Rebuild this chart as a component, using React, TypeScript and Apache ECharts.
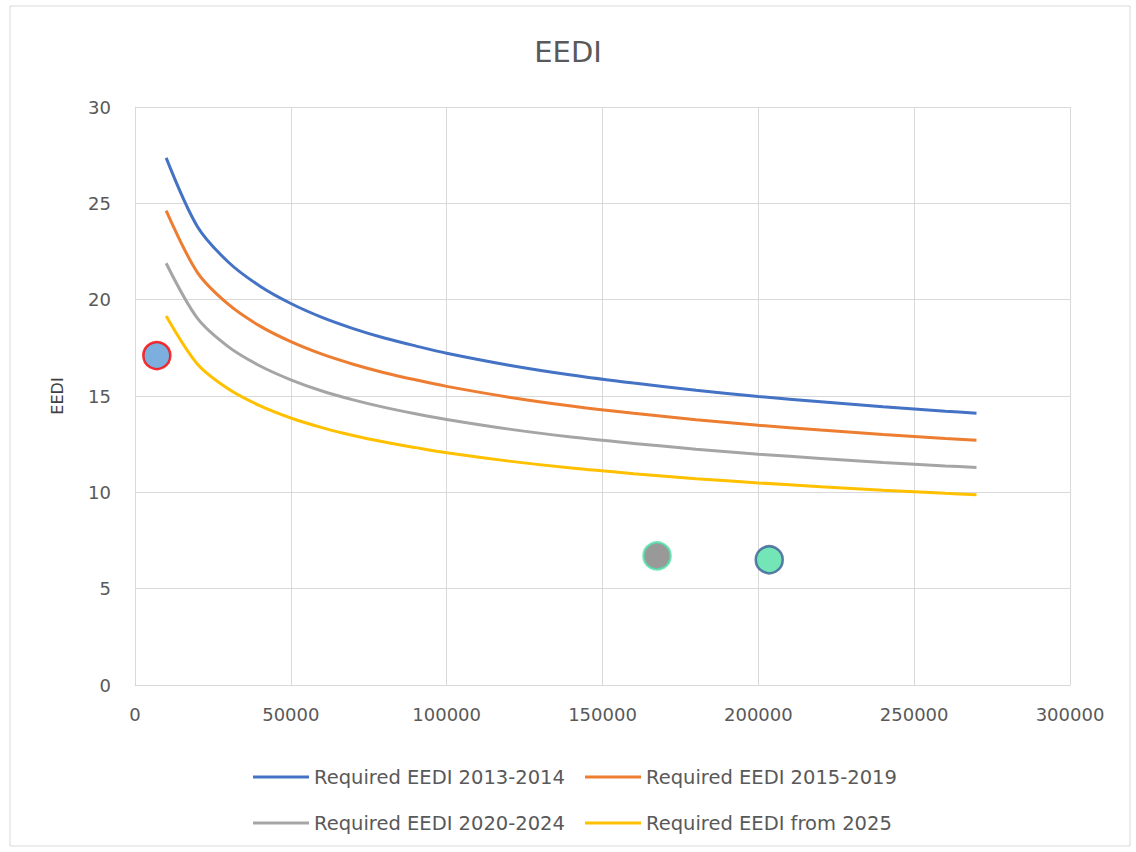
import React, { useEffect, useRef } from "react";
import * as echarts from "echarts";

const dwt = [10000, 20000, 30000, 40000, 50000, 60000, 70000, 80000, 90000, 100000, 120000, 140000, 160000, 180000, 200000, 220000, 240000, 260000, 270000];
const eedi2013 = [27.36, 23.8, 21.94, 20.71, 19.8, 19.08, 18.5, 18.01, 17.6, 17.22, 16.6, 16.09, 15.67, 15.3, 14.98, 14.7, 14.44, 14.21, 14.11];
const eedi2015 = [24.62, 21.42, 19.75, 18.64, 17.82, 17.17, 16.65, 16.21, 15.84, 15.5, 14.94, 14.48, 14.1, 13.77, 13.48, 13.23, 13.0, 12.79, 12.7];
const eedi2020 = [21.89, 19.04, 17.55, 16.57, 15.84, 15.26, 14.8, 14.41, 14.08, 13.78, 13.28, 12.87, 12.54, 12.24, 11.98, 11.76, 11.55, 11.37, 11.29];
const eedi2025 = [19.15, 16.66, 15.36, 14.5, 13.86, 13.36, 12.95, 12.61, 12.32, 12.05, 11.62, 11.26, 10.97, 10.71, 10.49, 10.29, 10.11, 9.95, 9.88];

const seriesNames = ["Required EEDI 2013-2014", "Required EEDI 2015-2019", "Required EEDI 2020-2024", "Required EEDI from 2025"];
const seriesColors = ["#4472C4", "#ED7D31", "#A5A5A5", "#FFC000"];

const shipX = [7000, 167500, 203500];
const shipY = [17.1, 6.7, 6.5];
const shipFill = ["#5B9BD5", "#7F7F7F", "#50DFA5"];
const shipBorder = ["#FF0000", "#4FE0A8", "#3B5C96"];

const xTicks = [0, 50000, 100000, 150000, 200000, 250000, 300000];
const yTicks = [0, 5, 10, 15, 20, 25, 30];

const FONT = "DejaVu Sans";
const TEXT = "#595959";

export default function App() {
  const ref = useRef<HTMLDivElement>(null);
  useEffect(() => {
    document.body.style.margin = "0";
    const chart = echarts.init(ref.current!, undefined, { renderer: "svg" });
    const curves = [eedi2013, eedi2015, eedi2020, eedi2025];
    const lineSeries = curves.map((vals, i) => ({
      name: seriesNames[i],
      type: "line",
      data: dwt.map((x, j) => [x, vals[j]]),
      smooth: 0.3,
      showSymbol: false,
      symbol: "none",
      lineStyle: { color: seriesColors[i], width: 3 },
      itemStyle: { color: seriesColors[i] },
      z: 2,
    }));
    const legendCommon = {
      orient: "vertical",
      icon: "rect",
      itemWidth: 56,
      itemHeight: 3,
      itemGap: 24,
      textStyle: { fontFamily: FONT, fontSize: 19.5, color: TEXT, lineHeight: 22 },
      top: 761,
    };
    chart.setOption({
      animation: false,
      backgroundColor: "#ffffff",
      title: {
        text: "EEDI",
        left: "center",
        top: 32,
        textStyle: { fontFamily: FONT, fontSize: 29, fontWeight: "normal", color: TEXT },
      },
      graphic: [
        {
          type: "rect",
          shape: { x: 10, y: 6, width: 1120, height: 840 },
          style: { fill: "none", stroke: "#D9D9D9", lineWidth: 1 },
          silent: true,
        },
      ],
      legend: [
        { ...legendCommon, left: 248, data: [seriesNames[0], seriesNames[2]] },
        { ...legendCommon, left: 580, data: [seriesNames[1], seriesNames[3]] },
      ],
      grid: { left: 135, right: 66, top: 107, bottom: 167, containLabel: false },
      xAxis: {
        type: "value",
        min: xTicks[0],
        max: xTicks[xTicks.length - 1],
        interval: 50000,
        axisLine: { show: true, lineStyle: { color: "#D9D9D9" } },
        axisTick: { show: false },
        splitLine: { show: true, lineStyle: { color: "#D9D9D9", width: 1 } },
        axisLabel: { fontFamily: FONT, fontSize: 18, color: TEXT, margin: 20, formatter: (v: number) => String(v) },
      },
      yAxis: {
        type: "value",
        name: "EEDI",
        nameLocation: "middle",
        nameGap: 70,
        nameTextStyle: { fontFamily: FONT, fontSize: 16, color: "#404040" },
        min: yTicks[0],
        max: yTicks[yTicks.length - 1],
        interval: 5,
        axisLine: { show: true, lineStyle: { color: "#D9D9D9" } },
        axisTick: { show: false },
        splitLine: { show: true, lineStyle: { color: "#D9D9D9", width: 1 } },
        axisLabel: { fontFamily: FONT, fontSize: 18, color: TEXT, margin: 24 },
      },
      series: [
        ...lineSeries,
        {
          name: "ships",
          type: "scatter",
          symbol: "circle",
          symbolSize: 27,
          z: 5,
          data: shipX.map((x, i) => ({
            value: [x, shipY[i]],
            itemStyle: { color: shipFill[i], borderColor: shipBorder[i], borderWidth: 2.5 },
          })),
        },
      ],
    });
    return () => chart.dispose();
  }, []);
  return <div ref={ref} style={{ width: 1136, height: 852 }} />;
}
